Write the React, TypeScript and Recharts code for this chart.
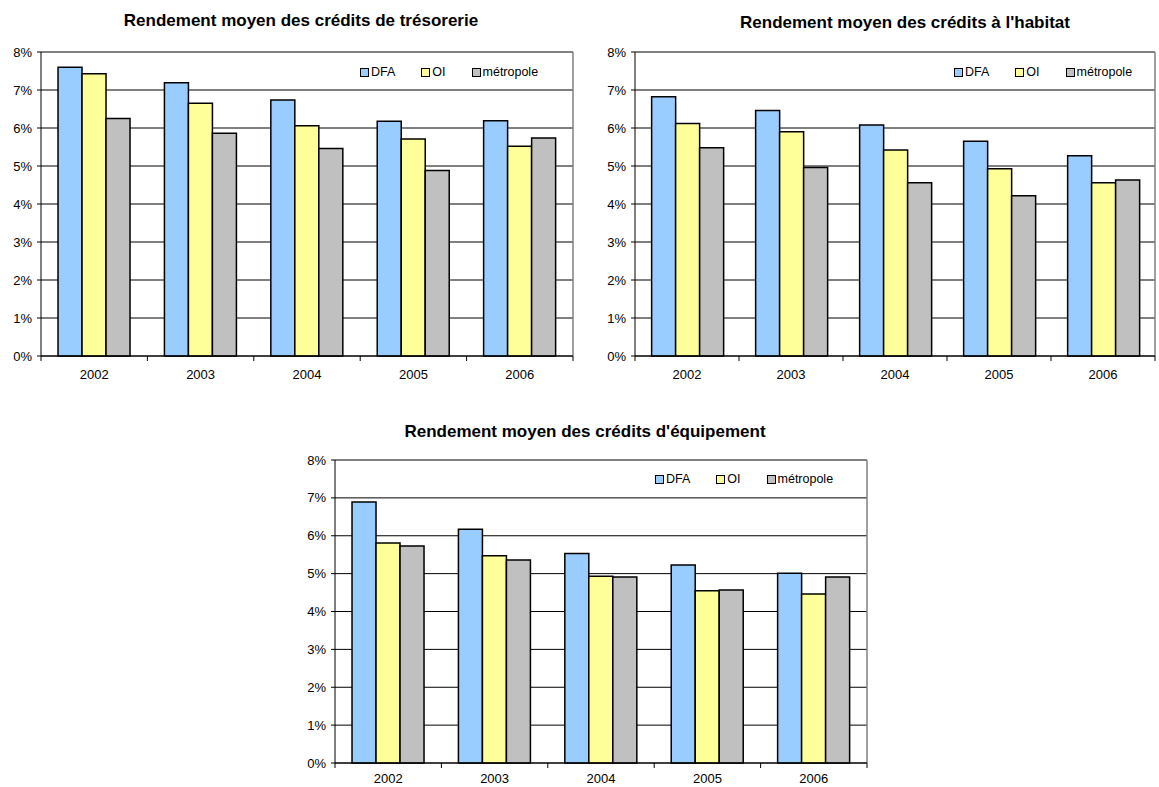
import { BarChart, Bar, XAxis, YAxis, CartesianGrid, Legend, ReferenceLine } from "recharts"

const years = ["2002", "2003", "2004", "2005", "2006"]

const tresoDFA = [7.6, 7.19, 6.74, 6.18, 6.19]
const tresoOI = [7.43, 6.65, 6.06, 5.71, 5.52]
const tresoMetro = [6.25, 5.86, 5.46, 4.88, 5.74]

const habitatDFA = [6.82, 6.46, 6.08, 5.65, 5.27]
const habitatOI = [6.12, 5.9, 5.42, 4.93, 4.56]
const habitatMetro = [5.48, 4.96, 4.56, 4.22, 4.63]

const equipDFA = [6.89, 6.17, 5.53, 5.23, 5.01]
const equipOI = [5.81, 5.47, 4.93, 4.55, 4.46]
const equipMetro = [5.73, 5.36, 4.91, 4.57, 4.91]

const yTicks = [0, 1, 2, 3, 4, 5, 6, 7, 8]

const FONT = "'Liberation Sans', Arial, sans-serif"

function LegendBox(props: any) {
  const items = props.payload || []
  return (
    <div style={{ display: "flex", fontFamily: FONT, fontSize: 12.5, color: "#000", lineHeight: "14px" }}>
      {items.map((it: any, i: number) => (
        <div key={i} style={{ display: "flex", alignItems: "center", marginRight: i < items.length - 1 ? 26 : 0 }}>
          <span style={{ width: 7, height: 7, background: it.color, border: "1px solid #000", marginRight: 2, display: "inline-block" }} />
          <span>{it.value}</span>
        </div>
      ))}
    </div>
  )
}

function YearTick(props: any) {
  const { x, y, payload, index, bw, last, offset } = props
  return (
    <g>
      <line x1={x - bw / 2} x2={x - bw / 2} y1={y} y2={y + 5} stroke="#000" />
      {index === last && <line x1={x + bw / 2} x2={x + bw / 2} y1={y} y2={y + 5} stroke="#000" />}
      <text x={x} y={y + offset} textAnchor="middle" fontSize={13} fontFamily={FONT} fill="#000">
        {payload.value}
      </text>
    </g>
  )
}

type ChartProps = {
  title: string
  dfa: number[]
  oi: number[]
  metro: number[]
  left: number
  top: number
  width: number
  height: number
  marginTop: number
  marginRight: number
  yWidth: number
  xHeight: number
  labelOffset: number
  titleX: number
  titleY: number
  legendLeft: number
  legendTop: number
}

function RateChart(p: ChartProps) {
  const data = years.map((y, i) => ({ year: y, dfa: p.dfa[i], oi: p.oi[i], metro: p.metro[i] }))
  const plotWidth = p.width - p.marginRight - p.yWidth
  const bw = plotWidth / years.length
  return (
    <div style={{ position: "absolute", left: p.left, top: p.top, width: p.width, height: p.height }}>
      <div
        style={{
          position: "absolute",
          left: p.titleX - p.left - 300,
          top: p.titleY - p.top - 10,
          width: 600,
          textAlign: "center",
          fontFamily: FONT,
          fontWeight: "bold",
          fontSize: 17,
          lineHeight: "20px",
          color: "#000",
          zIndex: 2,
        }}
      >
        {p.title}
      </div>
      <BarChart
        width={p.width}
        height={p.height}
        data={data}
        margin={{ top: p.marginTop, right: p.marginRight, left: 0, bottom: 0 }}
        barCategoryGap="16%"
        barGap={0}
      >
        <CartesianGrid vertical={false} stroke="#000" strokeWidth={1} />
        <ReferenceLine y={8} stroke="#808080" strokeWidth={1.5} />
        <ReferenceLine x="2006" position="end" stroke="#808080" strokeWidth={1.5} />
        <XAxis
          dataKey="year"
          height={p.xHeight}
          axisLine={{ stroke: "#000" }}
          tickLine={false}
          tickSize={0}
          tickMargin={0}
          interval={0}
          tick={(t: any) => <YearTick {...t} bw={bw} last={years.length - 1} offset={p.labelOffset} />}
        />
        <YAxis
          width={p.yWidth}
          domain={[0, 8]}
          ticks={yTicks}
          interval={0}
          tickFormatter={(v: number) => `${v}%`}
          axisLine={{ stroke: "#000" }}
          tickLine={{ stroke: "#000" }}
          tickSize={4}
          tickMargin={5}
          tick={{ fontSize: 13, fontFamily: FONT, fill: "#000" }}
        />
        <Legend
          layout="horizontal"
          verticalAlign="middle"
          align="center"
          content={<LegendBox />}
          wrapperStyle={{ left: p.legendLeft - p.left, top: p.legendTop - p.top, width: 220, height: 14 }}
        />
        <Bar dataKey="dfa" name="DFA" fill="#99CCFF" stroke="#000" strokeWidth={1.5} isAnimationActive={false} />
        <Bar dataKey="oi" name="OI" fill="#FFFF99" stroke="#000" strokeWidth={1.5} isAnimationActive={false} />
        <Bar dataKey="metro" name="métropole" fill="#C0C0C0" stroke="#000" strokeWidth={1.5} isAnimationActive={false} />
      </BarChart>
    </div>
  )
}

export default function App() {
  return (
    <div style={{ position: "absolute", left: 0, top: 0, width: 1159, height: 787, background: "#fff" }}>
      <RateChart
        title="Rendement moyen des crédits de trésorerie"
        dfa={tresoDFA}
        oi={tresoOI}
        metro={tresoMetro}
        left={0}
        top={0}
        width={580}
        height={390}
        marginTop={52}
        marginRight={7}
        yWidth={41}
        xHeight={34}
        labelOffset={23}
        titleX={301}
        titleY={21}
        legendLeft={360}
        legendTop={65}
      />
      <RateChart
        title="Rendement moyen des crédits à l'habitat"
        dfa={habitatDFA}
        oi={habitatOI}
        metro={habitatMetro}
        left={595}
        top={0}
        width={564}
        height={390}
        marginTop={52}
        marginRight={4}
        yWidth={40}
        xHeight={34}
        labelOffset={23}
        titleX={905}
        titleY={23}
        legendLeft={954}
        legendTop={65}
      />
      <RateChart
        title="Rendement moyen des crédits d'équipement"
        dfa={equipDFA}
        oi={equipOI}
        metro={equipMetro}
        left={290}
        top={440}
        width={585}
        height={347}
        marginTop={20}
        marginRight={8}
        yWidth={45}
        xHeight={24}
        labelOffset={20}
        titleX={585}
        titleY={432}
        legendLeft={655}
        legendTop={472}
      />
    </div>
  )
}
